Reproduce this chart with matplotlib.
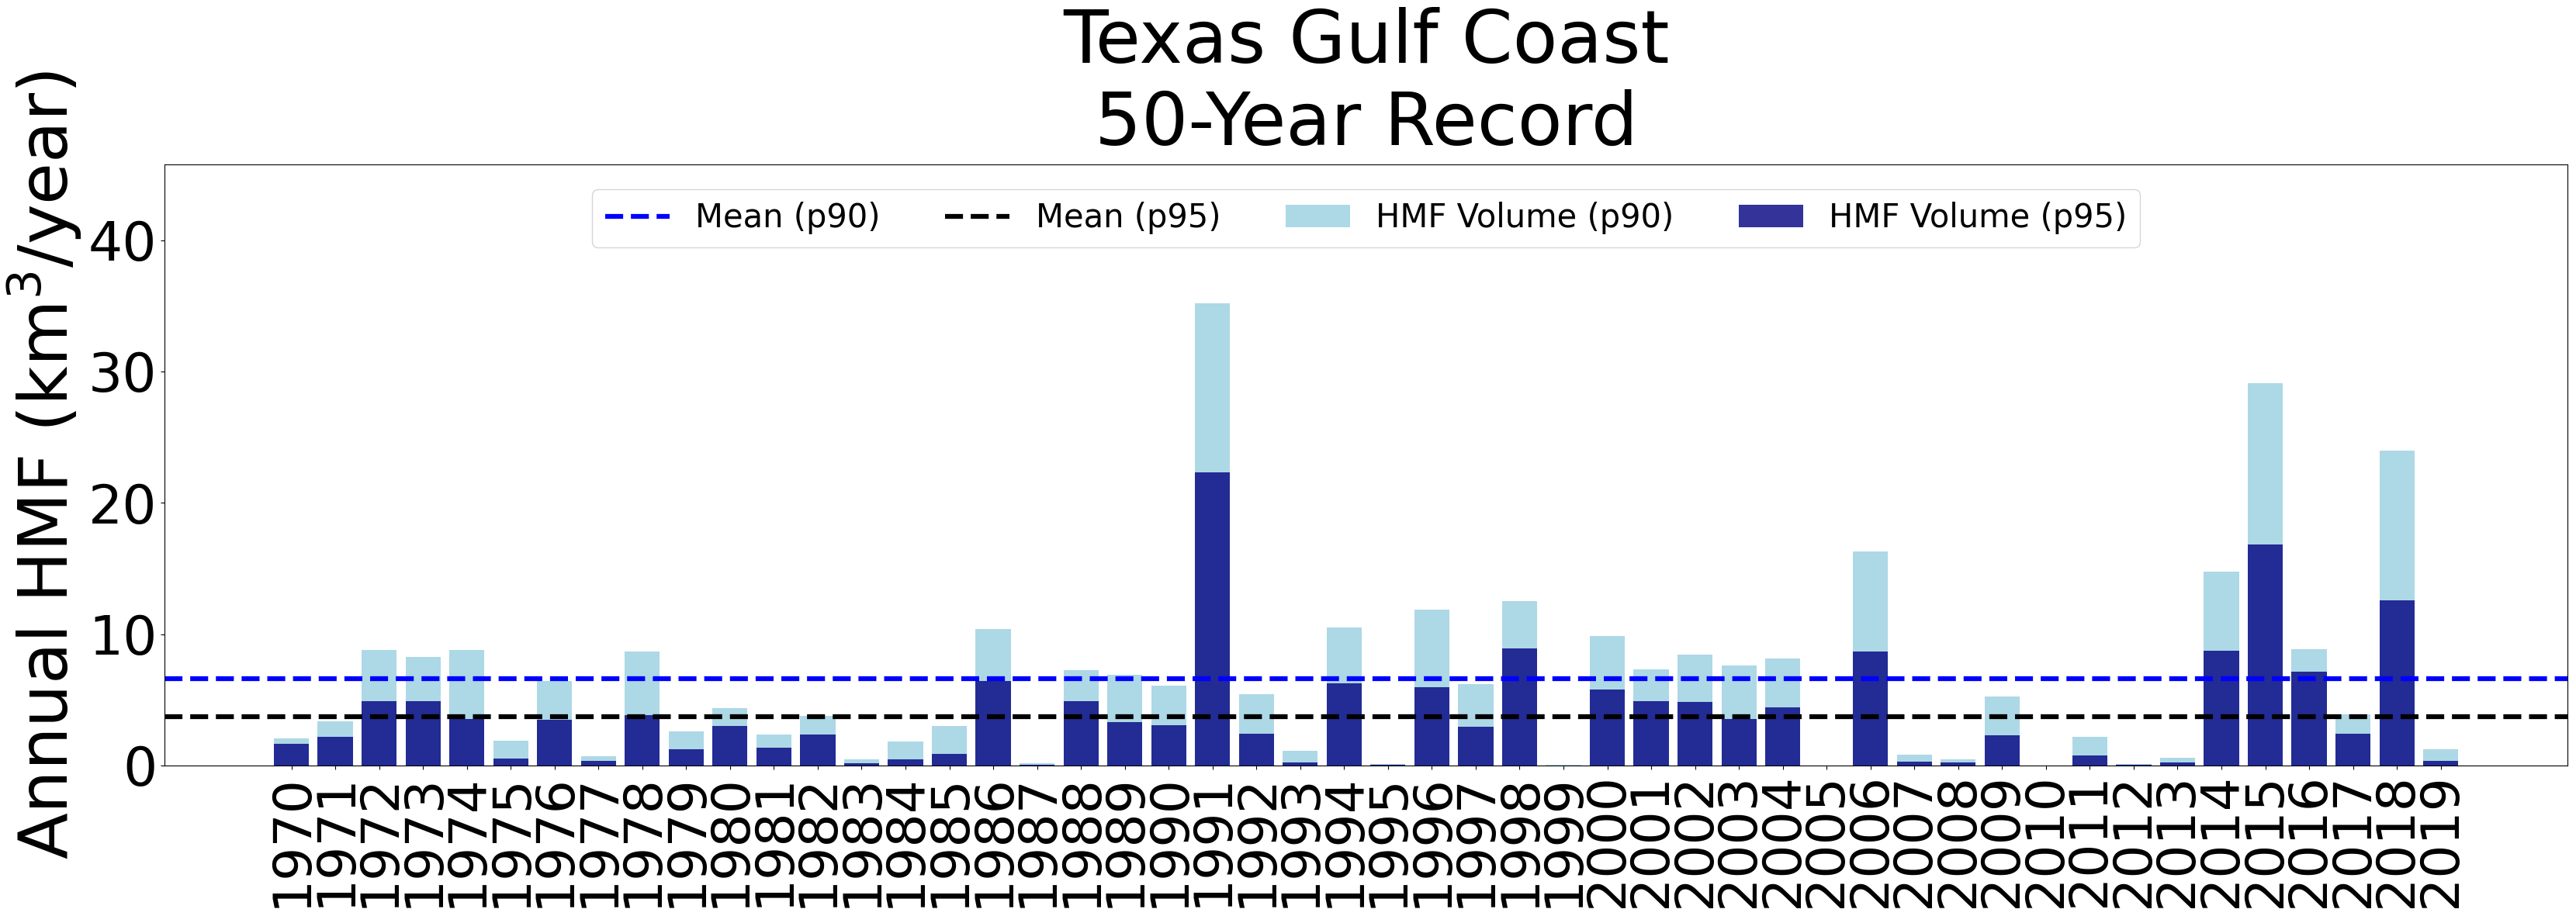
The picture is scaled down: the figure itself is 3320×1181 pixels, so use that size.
import numpy as np
import matplotlib
matplotlib.use("Agg")
import matplotlib.pyplot as plt


# Annual HMF volumes (km^3/year), 1970-2019
years = list(range(1970, 2020))

hmf_p90 = [2.05, 3.35, 8.78, 8.27, 8.78, 1.87, 6.43, 0.69, 8.69, 2.59,
           4.34, 2.35, 3.77, 0.45, 1.81, 2.99, 10.38, 0.18, 7.24, 6.91,
           6.06, 35.2, 5.43, 1.12, 10.50, 0.09, 11.86, 6.18, 12.52, 0.03,
           9.86, 7.30, 8.45, 7.60, 8.14, 0.0, 16.29, 0.81, 0.45, 5.25,
           0.0, 2.17, 0.09, 0.57, 14.75, 29.08, 8.84, 3.92, 23.98, 1.24]

hmf_p95 = [1.63, 2.17, 4.89, 4.89, 3.56, 0.51, 3.47, 0.33, 3.83, 1.24,
           2.99, 1.33, 2.35, 0.15, 0.45, 0.87, 6.43, 0.06, 4.89, 3.29,
           3.05, 22.32, 2.41, 0.21, 6.24, 0.03, 5.94, 2.93, 8.90, 0.0,
           5.76, 4.89, 4.83, 3.56, 4.40, 0.0, 8.69, 0.27, 0.21, 2.29,
           0.0, 0.75, 0.03, 0.21, 8.72, 16.83, 7.15, 2.41, 12.58, 0.33]

TITLE = 'Texas Gulf Coast\n50-Year Record'
YLABEL = 'Annual HMF (km$^3$/year)'

#-------------------------------------------------------------------------------

def make_plot():
    fig = plt.figure(figsize=(33.2, 11.81), dpi=100)
    ax = fig.add_axes([0.0639, 0.1643, 0.9328, 0.6562])

    mean_p90 = np.mean(hmf_p90)
    mean_p95 = np.mean(hmf_p95)

    l1 = ax.axhline(mean_p90, color='blue', linestyle='--', linewidth=4.5,
                    label='Mean (p90)')
    l2 = ax.axhline(mean_p95, color='black', linestyle='--', linewidth=4.5,
                    label='Mean (p95)')
    b1 = ax.bar(years, hmf_p90, color='lightblue', label='HMF Volume (p90)')
    b2 = ax.bar(years, hmf_p95, color='navy', alpha=0.8,
                label='HMF Volume (p95)')

    ax.set_ylim(0, max(hmf_p90) * 1.3)
    ax.set_xticks(years)
    ax.set_xticklabels([str(y) for y in years], rotation=90, fontsize=49)
    ax.tick_params(axis='y', labelsize=50)
    ax.set_ylabel(YLABEL, fontsize=63)
    ax.set_title(TITLE, fontsize=68, pad=18)

    ax.legend(handles=[l1, l2, b1, b2], loc='upper center',
              bbox_to_anchor=(0.5, 0.986), ncol=4, fontsize=30)

    fig.savefig('out.png', dpi=100)


if __name__ == "__main__":
    make_plot()
